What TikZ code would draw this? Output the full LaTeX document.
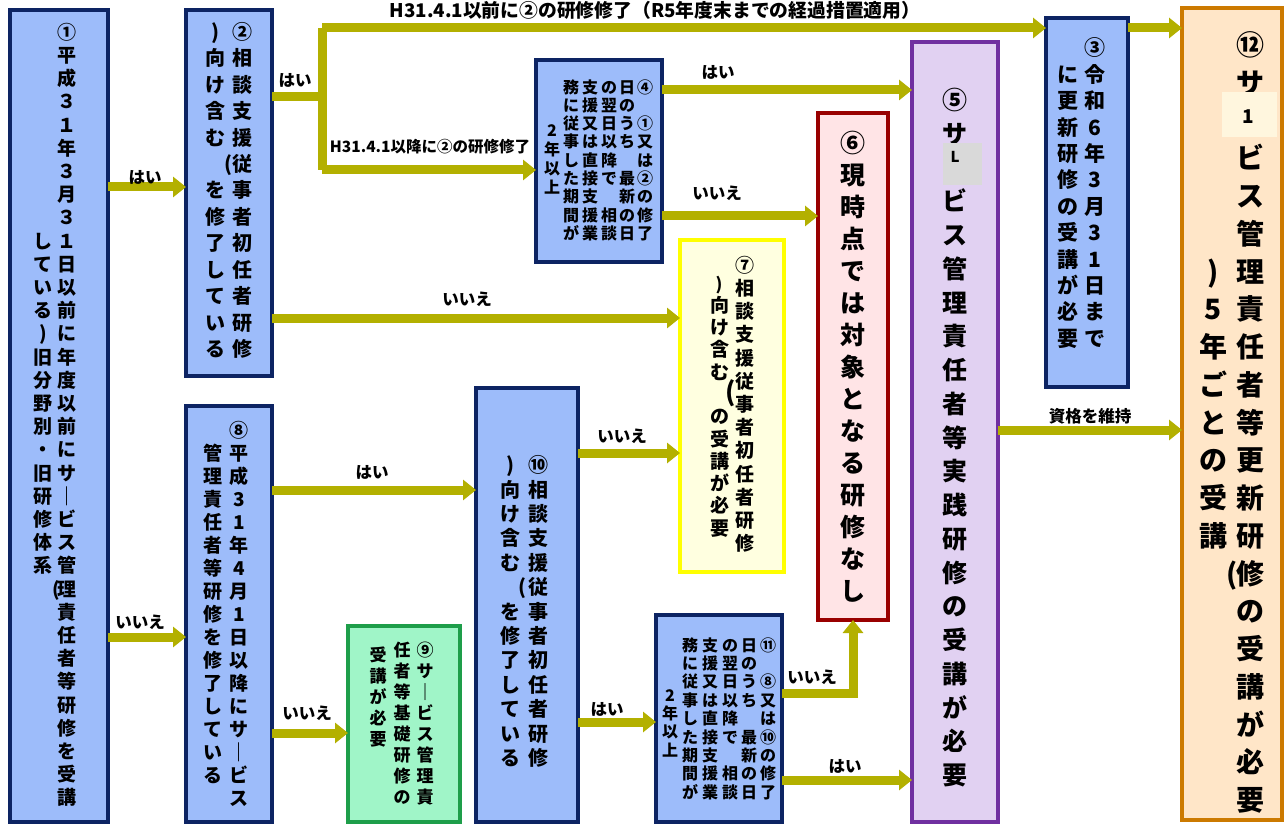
\documentclass[tikz,border=0pt]{standalone}
\usepackage{fontspec}
\setmainfont{Noto Sans CJK JP}
\newfontfamily\jp{Noto Sans CJK JP}
\newcommand\jpb{\jp\bfseries}
\usetikzlibrary{arrows.meta}
\definecolor{arrowc}{HTML}{B3B000}
\definecolor{navyb}{HTML}{0D2463}
\definecolor{bluef}{HTML}{9DBCFA}
\definecolor{yelb}{HTML}{FFFF00}
\definecolor{yelf}{HTML}{FFFFE0}
\definecolor{greenb}{HTML}{1E9E4A}
\definecolor{greenf}{HTML}{A0F5C8}
\definecolor{redb}{HTML}{990000}
\definecolor{redf}{HTML}{FFE4E6}
\definecolor{purb}{HTML}{7030A0}
\definecolor{purf}{HTML}{E1D1F2}
\definecolor{orab}{HTML}{CC7A00}
\definecolor{oraf}{HTML}{FFE6C8}
\definecolor{patchg}{HTML}{D9D9D9}
\definecolor{patchc}{HTML}{FFF6DE}
\tikzset{
  boxbase/.style={draw, line width=4.5pt, inner sep=0pt, outer sep=0pt, anchor=north west},
  bluebox/.style={boxbase, draw=navyb, fill=bluef},
  yelbox/.style={boxbase, draw=yelb, fill=yelf},
  greenbox/.style={boxbase, draw=greenb, fill=greenf},
  redbox/.style={boxbase, draw=redb, fill=redf},
  purbox/.style={boxbase, draw=purb, fill=purf},
  orabox/.style={boxbase, draw=orab, fill=oraf},
  ch/.style={inner sep=0pt, outer sep=0pt, text=black},
  lbl/.style={inner sep=0pt, font=\jpb\fontsize{16.5}{16.5}\selectfont},
  arrline/.style={draw=arrowc, line width=9pt},
  arr/.style={arrline, -{Triangle[length=13pt,width=20pt]}},
}
\newcommand\bx[6]{\node[#6, minimum width={(#4-#2)*1pt}, minimum height={(#5-#3)*1pt}] (#1) at (#2,#3) {};}
\newcommand\vcol[6]{\foreach \ch [count=\k from 0] in {#6}{%
  \node[ch, font=\jpb\fontsize{#5}{#5}\selectfont, text height={0.88*#5pt}, text depth={0.12*#5pt}, name=#1-\k] at (#2,{#3+\k*#4}) {\ch};}}
\newcommand\vch[5]{\node[ch, font=\jpb\fontsize{#4}{#4}\selectfont, text height={0.88*#4pt}, text depth={0.12*#4pt}] (#1) at (#2,#3) {#5};}
\begin{document}
\begin{tikzpicture}[x=1pt,y=-1pt]
\useasboundingbox (0,0) rectangle (1287,826);
% boxes
\bx{b1}{10}{10}{108}{822}{bluebox}
\bx{b2}{186}{10}{272}{376}{bluebox}
\bx{b8}{186}{406}{272}{822}{bluebox}
\bx{b9}{348}{626}{460}{822}{greenbox}
\bx{b10}{476}{388}{578}{822}{bluebox}
\bx{b4}{536}{60}{662}{262}{bluebox}
\bx{b11}{656}{615}{782}{822}{bluebox}
\bx{b7}{680}{240}{784}{572}{yelbox}
\bx{b6}{818}{113}{888}{620}{redbox}
\bx{b5}{912}{42}{998}{822}{purbox}
\bx{b3}{1046}{18}{1128}{387}{bluebox}
\bx{b12}{1182}{8}{1282}{820}{orabox}
% box 1
\vcol{b1r}{67}{32}{23.2}{19}{①,平,成,３,１,年,３,月,３,１,日,以,前,に,年,度,以,前,に,サ,｜,ビ,ス,管,理,責,任,者,等,研,修,を,受,講}
\vcol{b1l}{43}{240.8}{23.2}{19}{し,て,い,る,),旧,分,野,別,・,旧,研,修,体,系}
\vch{b1p}{56}{588.8}{19}{(}
% box 2
\vcol{b2r}{242}{32}{26.4}{20}{②,相,談,支,援,従,事,者,初,任,者,研,修}
\vcol{b2l}{215}{32}{26.4}{20}{),向,け,含,む,{},を,修,了,し,て,い,る}
\vch{b2p}{228}{164}{20}{(}
% box 8
\vcol{b8r}{239}{430}{23}{19}{⑧,平,成,3,1,年,4,月,1,日,以,降,に,サ,｜,ビ,ス}
\vcol{b8l}{213}{453}{23}{19}{管,理,責,任,者,等,研,修,を,修,了,し,て,い,る}
% box 9
\vcol{b9a}{425}{650}{21}{17}{⑨,サ,｜,ビ,ス,管,理,責}
\vcol{b9b}{402}{650}{21}{17}{任,者,等,基,礎,研,修,の}
\vcol{b9c}{378}{655}{21}{17}{受,講,が,必,要}
% box 10
\vcol{b10r}{538}{465}{24.4}{20}{⑩,相,談,支,援,従,事,者,初,任,者,研,修}
\vcol{b10l}{510}{465}{24.4}{20}{),向,け,含,む,{},を,修,了,し,て,い,る}
\vch{b10p}{522}{587}{20}{(}
% box 4
\vcol{b4a}{645}{87}{18.3}{16}{④,{},①,又,は,②,の,修,了}
\vcol{b4b}{627}{87}{18.3}{16}{日,の,う,ち,{},最,新,の,日}
\vcol{b4c}{609}{87}{18.3}{16}{の,翌,日,以,降,で,{},相,談}
\vcol{b4d}{590}{87}{18.3}{16}{支,援,又,は,直,接,支,援,業}
\vcol{b4e}{571}{87}{18.3}{16}{務,に,従,事,し,た,期,間,が}
\vcol{b4f}{552}{130}{19}{16}{2,年,以,上}
% box 11
\vcol{b11a}{768}{645}{18.4}{16}{⑪,{},⑧,又,は,⑩,の,修,了}
\vcol{b11b}{749}{645}{18.4}{16}{日,の,う,ち,{},最,新,の,日}
\vcol{b11c}{730}{645}{18.4}{16}{の,翌,日,以,降,で,{},相,談}
\vcol{b11d}{710}{645}{18.4}{16}{支,援,又,は,直,接,支,援,業}
\vcol{b11e}{690}{645}{18.4}{16}{務,に,従,事,し,た,期,間,が}
\vcol{b11f}{670}{695}{18.4}{16}{2,年,以,上}
% box 7
\vcol{b7r}{745}{265}{23.2}{19}{⑦,相,談,支,援,従,事,者,初,任,者,研,修}
\vch{b7q}{719}{284}{17}{)}
\vcol{b7l}{720}{305}{22.3}{19}{向,け,含,む,{},の,受,講,が,必,要}
\vch{b7p}{731}{392}{26}{(}
% box 6
\vcol{b6c}{853}{143}{32}{25}{⑥,現,時,点,で,は,対,象,と,な,る,研,修,な,し}
% box 5
\vcol{b5c}{955}{100}{33.75}{25}{⑤,サ,{},ビ,ス,管,理,責,任,者,等,実,践,研,修,の,受,講,が,必,要}
\fill[patchg] (943,143) rectangle (982,185);
\node[inner sep=0pt, font=\jpb\fontsize{15}{15}\selectfont] (b5L) at (955,157) {L};
% box 3
\vcol{b3r}{1095}{48}{26.4}{21}{③,令,和,6,年,3,月,3,1,日,ま,で}
\vcol{b3l}{1068}{74.4}{26.4}{21}{に,更,新,研,修,の,受,講,が,必,要}
% box 12
\vcol{b12r}{1250}{45}{37.75}{28}{⑫,サ,{},ビ,ス,管,理,責,任,者,等,更,新,研,修,の,受,講,が,必,要}
\vcol{b12l}{1213}{271.5}{37.75}{28}{),5,年,ご,と,の,受,講}
\vch{b12p}{1232}{573.5}{28}{(}
\fill[patchc] (1222,92) rectangle (1277,137);
\node[inner sep=0pt, font=\jpb\fontsize{19}{19}\selectfont] (b12L) at (1248,117) {1};
% connectors
\coordinate (j2) at (322,97);
\coordinate (jt) at (322,28);
\coordinate (jb) at (322,170);
\draw[arr] (b1.east |- 0,187) -- (b2.west |- 0,187);
\node[lbl] (l1) at (145,177) {はい};
\draw[arr] (b1.east |- 0,637) -- (b8.west |- 0,637);
\node[lbl] (l2) at (140,622) {いいえ};
\draw[arrline] (b2.east |- j2) -- (j2);
\draw[arrline, line cap=square] (jt) -- (jb);
\node[lbl] (l3) at (295,80) {はい};
\draw[arr] (jt) -- (b3.west |- jt);
\node[lbl, font=\jpb\fontsize{18.8}{18.8}\selectfont] (l4) at (655,10) {H31.4.1以前に②の研修修了（R5年度末までの経過措置適用）};
\draw[arr] (jb) -- (b4.west |- jb);
\node[lbl, font=\jpb\fontsize{15.5}{15.5}\selectfont] (l5) at (430,147) {H31.4.1以降に②の研修修了};
\draw[arr] (b2.east |- 0,318) -- (b7.west |- 0,318);
\node[lbl] (l6) at (467,299) {いいえ};
\draw[arr] (b4.east |- 0,90) -- (b5.west |- 0,90);
\node[lbl] (l7) at (718,72) {はい};
\draw[arr] (b4.east |- 0,216) -- (b6.west |- 0,216);
\node[lbl] (l8) at (717,193) {いいえ};
\draw[arr] (b3.east |- 0,28) -- (b12.west |- 0,28);
\draw[arr] (b5.east |- 0,430) -- (b12.west |- 0,430);
\node[lbl] (l9) at (1090,416) {資格を維持};
\draw[arr] (b8.east |- 0,490) -- (b10.west |- 0,490);
\node[lbl] (l10) at (372,472) {はい};
\draw[arr] (b8.east |- 0,733) -- (b9.west |- 0,733);
\node[lbl] (l11) at (307,713) {いいえ};
\draw[arr] (b10.east |- 0,453) -- (b7.west |- 0,453);
\node[lbl] (l12) at (622,436) {いいえ};
\draw[arr] (b10.east |- 0,722) -- (b11.west |- 0,722);
\node[lbl] (l13) at (607,709) {はい};
\draw[arr] (b11.east |- 0,693) -| (b6.south);
\node[lbl] (l14) at (812,677) {いいえ};
\draw[arr] (b11.east |- 0,780) -- (b5.west |- 0,780);
\node[lbl] (l15) at (845,766) {はい};
\end{tikzpicture}
\end{document}
